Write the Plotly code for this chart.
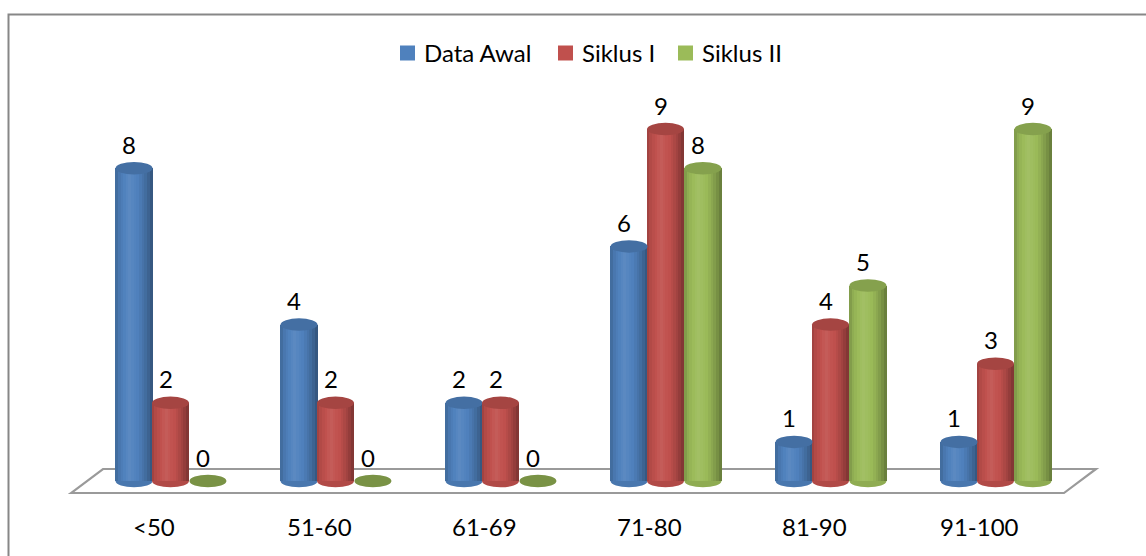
import plotly.graph_objects as go

# ---- data -------------------------------------------------------------
categories = ["<50", "51-60", "61-69", "71-80", "81-90", "91-100"]
data_awal = [8, 4, 2, 6, 1, 1]
siklus_1 = [2, 2, 2, 9, 4, 3]
siklus_2 = [0, 0, 0, 8, 5, 9]

series_names = ["Data Awal", "Siklus I", "Siklus II"]
series_values = [data_awal, siklus_1, siklus_2]
series_colors = ["#4F81BD", "#C0504D", "#9BBB59"]

# ---- geometry / style --------------------------------------------------
BAR_W = 0.224                     # cylinder width (category units)
OFFSETS = [-0.221, 0.0, 0.227]    # cylinder offsets inside a group
CAP_H = 0.16                      # half height of elliptical caps (value units)
N_SLICES = 14                     # vertical slices used for the cylinder shading
FONT = "Lato, 'Noto Sans', sans-serif"
FS = 24
W, H = 1146, 556
LEGEND_X = [400, 558, 678]        # left edge of each legend swatch (px)
LEGEND_Y = 53                     # legend row centre (px from top)
SWATCH = 15


def hex_to_rgb(h):
    h = h.lstrip("#")
    return tuple(int(h[i:i + 2], 16) for i in (0, 2, 4))


def shade(h, f):
    r, g, b = hex_to_rgb(h)
    if f >= 1:
        k = f - 1
        r, g, b = (c + (255 - c) * k for c in (r, g, b))
    else:
        r, g, b = (c * f for c in (r, g, b))
    return "rgb(%d,%d,%d)" % (round(r), round(g), round(b))


def profile(t):
    # brightness across the cylinder, left edge -> right edge
    pts = [(0.0, 0.80), (0.12, 0.94), (0.38, 1.07), (0.62, 0.99), (0.85, 0.82), (1.0, 0.64)]
    for (t0, f0), (t1, f1) in zip(pts, pts[1:]):
        if t <= t1:
            return f0 + (f1 - f0) * (t - t0) / (t1 - t0)
    return pts[-1][1]


fig = go.Figure()
shapes = []
annotations = []

# floor of the 3-D plot
shapes.append(dict(
    type="path", xref="x", yref="y", layer="below",
    path="M -0.603,-0.307 L -0.409,0.307 L 5.609,0.307 L 5.415,-0.307 Z",
    fillcolor="white", line=dict(color="#9a9a9a", width=2.2),
))

for s, (name, vals, col) in enumerate(zip(series_names, series_values, series_colors)):
    xs = [i + OFFSETS[s] for i in range(len(categories))]
    # base body
    fig.add_trace(go.Bar(
        x=xs, y=vals, width=BAR_W, name=name, marker=dict(color=col, line=dict(width=0)),
        hoverinfo="skip", showlegend=False,
    ))
    # shading slices
    for k in range(N_SLICES):
        t = (k + 0.5) / N_SLICES
        fig.add_trace(go.Bar(
            x=[x - BAR_W / 2 + t * BAR_W for x in xs], y=vals,
            width=BAR_W / N_SLICES * 1.2,
            marker=dict(color=shade(col, profile(t)), line=dict(width=0)),
            hoverinfo="skip", showlegend=False,
        ))
    for x, v in zip(xs, vals):
        if v > 0:
            # rounded bottom of the cylinder
            shapes.append(dict(
                type="circle", xref="x", yref="y", layer="below",
                x0=x - BAR_W / 2, x1=x + BAR_W / 2, y0=-CAP_H, y1=CAP_H,
                fillcolor=shade(col, 0.92), line=dict(width=0),
            ))
        # top cap
        shapes.append(dict(
            type="circle", xref="x", yref="y", layer="above",
            x0=x - BAR_W / 2, x1=x + BAR_W / 2, y0=v - CAP_H, y1=v + CAP_H,
            fillcolor=shade(col, 0.86 if v > 0 else 0.78), line=dict(width=0),
        ))
        # value label
        annotations.append(dict(
            x=x, y=v, xref="x", yref="y", text=str(v), showarrow=False,
            yshift=24, xshift=-5, font=dict(size=FS, color="black", family=FONT),
        ))

    # legend: swatch + series name
    lx = LEGEND_X[s]
    shapes.append(dict(
        type="rect", xref="paper", yref="paper",
        x0=lx / W, x1=(lx + SWATCH) / W,
        y0=1 - (LEGEND_Y + SWATCH / 2) / H, y1=1 - (LEGEND_Y - SWATCH / 2) / H,
        fillcolor=col, line=dict(width=0),
    ))
    annotations.append(dict(
        x=(lx + SWATCH + 7) / W, y=1 - LEGEND_Y / H, xref="paper", yref="paper",
        xanchor="left", yanchor="middle", text=name, showarrow=False,
        font=dict(size=FS, color="black", family=FONT),
    ))

# category labels
for i, c in enumerate(categories):
    annotations.append(dict(
        x=i - 0.097, y=-1.176, xref="x", yref="y", text=c, showarrow=False,
        font=dict(size=FS, color="black", family=FONT),
    ))

# chart frame
shapes.append(dict(
    type="rect", xref="paper", yref="paper", x0=8.5 / W, x1=1.05,
    y0=-0.1, y1=1 - 14.5 / H, line=dict(color="#878787", width=2),
    fillcolor="rgba(0,0,0,0)", layer="below",
))

fig.update_layout(
    width=W, height=H,
    margin=dict(l=0, r=0, t=0, b=0),
    paper_bgcolor="white", plot_bgcolor="white",
    barmode="overlay", bargap=0,
    xaxis=dict(range=[-1.0333, 5.9121], visible=False, fixedrange=True),
    yaxis=dict(range=[-1.918, 12.302], visible=False, fixedrange=True),
    shapes=shapes, annotations=annotations,
    showlegend=False,
    font=dict(family=FONT),
)

fig.write_html("out.html")
